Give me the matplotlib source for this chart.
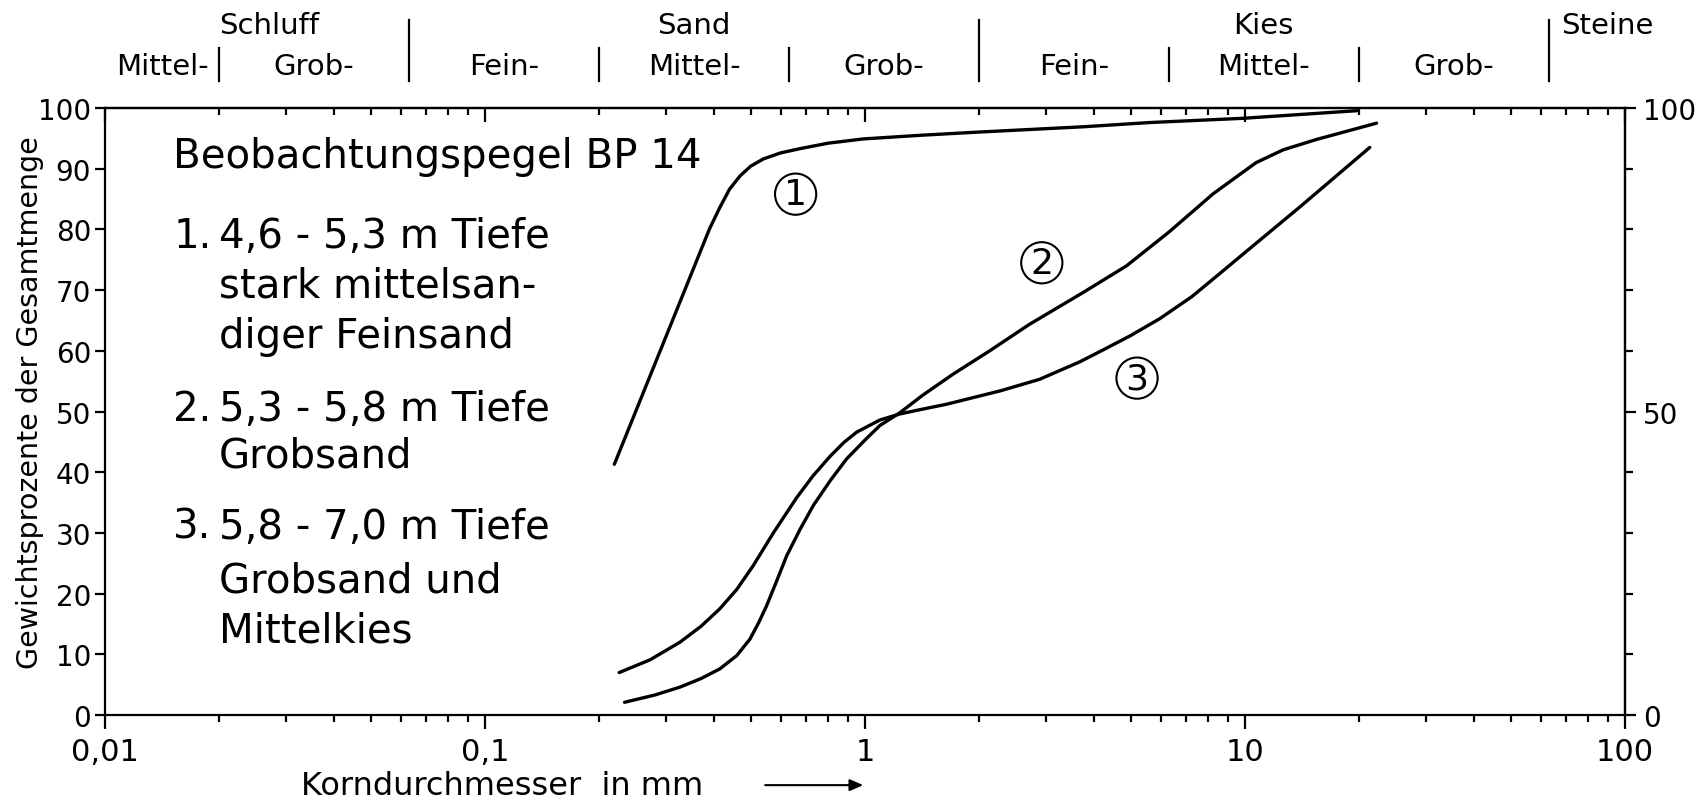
import matplotlib
matplotlib.use('Agg')
import matplotlib.pyplot as plt
from matplotlib.ticker import FixedLocator, NullFormatter, LogLocator

plt.rcParams['font.family'] = 'DejaVu Sans'

# ------------------------------------------------------------
#  Sieblinien BP 14 (Korndurchmesser in mm, Siebdurchgang in %)
# ------------------------------------------------------------
d1 = [0.219, 0.368, 0.39, 0.415, 0.44, 0.469, 0.50, 0.54, 0.60, 0.675, 0.80,
      0.99, 1.4, 1.95, 3.75, 5.62, 9.9, 19.7]
p1 = [41.3, 76.2, 80.1, 83.6, 86.6, 88.8, 90.4, 91.6, 92.6, 93.3, 94.2,
      94.9, 95.5, 96.0, 96.9, 97.6, 98.3, 99.55]

d2 = [0.233, 0.28, 0.326, 0.37, 0.415, 0.46, 0.498, 0.525, 0.551, 0.585, 0.622,
      0.675, 0.731, 0.81, 0.895, 1.0, 1.095, 1.236, 1.42, 1.71, 2.13, 2.7,
      3.75, 4.88, 6.32, 8.26, 10.7, 12.6, 15.4, 22.2]
p2 = [2.1, 3.3, 4.6, 6.0, 7.6, 9.8, 12.5, 15.2, 18.0, 22.0, 26.2,
      30.6, 34.5, 38.6, 42.2, 45.3, 47.7, 49.8, 52.7, 56.2, 60.0, 64.3,
      69.6, 74.0, 79.6, 85.9, 91.0, 93.1, 94.8, 97.5]

d3 = [0.2256, 0.272, 0.326, 0.37, 0.415, 0.46, 0.508, 0.574, 0.661, 0.73,
      0.809, 0.88, 0.951, 1.095, 1.236, 1.42, 1.64, 2.27, 2.88, 3.68, 4.28,
      5.0, 5.97, 7.24, 8.5, 10.05, 13.95, 21.3]
p3 = [7.0, 9.1, 12.0, 14.6, 17.5, 20.7, 24.6, 30.0, 35.8, 39.4,
      42.6, 44.9, 46.6, 48.6, 49.6, 50.4, 51.2, 53.4, 55.3, 58.2, 60.3,
      62.5, 65.3, 68.9, 72.5, 76.3, 83.7, 93.5]

# Kurvennummern (Position der Kreise)
nr_text = ['1', '2', '3']
nr_d = [0.657, 2.92, 5.2]
nr_p = [85.8, 74.5, 55.5]

# Bodenklassen nach DIN 4022
grenzen_haupt = [0.063, 2.0, 63.0]
grenzen_neben = [0.02, 0.2, 0.63, 6.3, 20.0]
haupt_namen = ['Schluff', 'Sand', 'Kies']
haupt_pos = [0.027, 0.355, 11.2]
neben_namen = ['Grob-', 'Fein-', 'Mittel-', 'Grob-', 'Fein-', 'Mittel-', 'Grob-']
neben_pos = [0.0355, 0.112, 0.355, 1.12, 3.55, 11.2, 35.5]

x_ticks = [0.01, 0.1, 1, 10, 100]
x_labels = ['0,01', '0,1', '1', '10', '100']

# Legendentext (Zeile, Nummer, Text)
legende = [
    (92.1, '', 'Beobachtungspegel BP 14'),
    (78.9, '1.', '4,6 - 5,3 m Tiefe'),
    (70.7, '', 'stark mittelsan-'),
    (62.4, '', 'diger Feinsand'),
    (50.4, '2.', '5,3 - 5,8 m Tiefe'),
    (42.7, '', 'Grobsand'),
    (31.0, '3.', '5,8 - 7,0 m Tiefe'),
    (22.2, '', 'Grobsand und'),
    (14.0, '', 'Mittelkies'),
]

LW = 1.6

fig = plt.figure(figsize=(16.98, 8.03), dpi=100)
ax = fig.add_axes([0.0618, 0.1083, 0.8952, 0.7560])

for d, p in [(d1, p1), (d2, p2), (d3, p3)]:
    ax.plot(d, p, color='black', linewidth=2.4, solid_capstyle='round',
            solid_joinstyle='round')

ax.set_xscale('log')
ax.set_xlim(0.01, 100)
ax.set_ylim(0, 100)
for s in ax.spines.values():
    s.set_linewidth(LW)

ax.set_xticks(x_ticks)
ax.set_xticklabels(x_labels)
ax.xaxis.set_minor_locator(LogLocator(base=10, subs=range(2, 10)))
ax.xaxis.set_minor_formatter(NullFormatter())
ax.tick_params(axis='x', which='major', direction='out', length=10, width=LW,
               labelsize=22, pad=6)
ax.tick_params(axis='x', which='minor', direction='out', length=5, width=LW)

ax.set_yticks(range(0, 101, 10))
ax.tick_params(axis='y', direction='out', length=7, width=LW, labelsize=20, pad=3)

# obere Achse: Striche nach innen
top = ax.secondary_xaxis('top')
top.set_xticks(x_ticks)
top.xaxis.set_minor_locator(LogLocator(base=10, subs=range(2, 10)))
top.xaxis.set_minor_formatter(NullFormatter())
top.tick_params(axis='x', which='major', direction='in', length=10, width=LW,
                labeltop=False)
top.tick_params(axis='x', which='minor', direction='in', length=5, width=LW)
top.spines['top'].set_linewidth(LW)

# rechte Achse: 0 / 50 / 100
right = ax.secondary_yaxis('right')
right.set_yticks([0, 50, 100])
right.yaxis.set_minor_locator(FixedLocator(range(10, 100, 10)))
right.tick_params(axis='y', which='major', direction='out', length=8, width=LW,
                  labelsize=20, pad=5)
right.tick_params(axis='y', which='minor', direction='out', length=6, width=LW)
right.spines['right'].set_linewidth(LW)

# Bodenklassen oben
tr = ax.get_xaxis_transform()
for g in grenzen_haupt:
    ax.plot([g, g], [1.045, 1.145], transform=tr, clip_on=False,
            color='black', linewidth=LW)
for g in grenzen_neben:
    ax.plot([g, g], [1.045, 1.098], transform=tr, clip_on=False,
            color='black', linewidth=LW)
for name, pos in zip(haupt_namen, haupt_pos):
    ax.text(pos, 1.137, name, transform=tr, ha='center', va='center', fontsize=21)
ax.text(68, 1.137, 'Steine', transform=tr, ha='left', va='center', fontsize=21)
ax.text(0.0188, 1.069, 'Mittel-', transform=tr, ha='right', va='center', fontsize=21)
for name, pos in zip(neben_namen, neben_pos):
    ax.text(pos, 1.069, name, transform=tr, ha='center', va='center', fontsize=21)

# Legende im Diagramm
ty = ax.get_yaxis_transform()
for y, nr, txt in legende:
    if txt.startswith('Beob'):
        ax.text(0.045, y, txt, transform=ty, ha='left', va='center', fontsize=29)
    else:
        if nr:
            ax.text(0.045, y, nr, transform=ty, ha='left', va='center', fontsize=29)
        ax.text(0.075, y, txt, transform=ty, ha='left', va='center', fontsize=29)

# Kurvennummern im Kreis
for t, d, p in zip(nr_text, nr_d, nr_p):
    ax.text(d, p, t, ha='center', va='center', fontsize=26,
            bbox=dict(boxstyle='circle,pad=0.1', fc='none', ec='black', lw=1.5))

# Achsbeschriftungen
fig.text(0.0177, 0.498, 'Gewichtsprozente der Gesamtmenge', rotation=90,
         ha='center', va='center', fontsize=20.5)
fig.text(0.296, 0.021, 'Korndurchmesser  in mm', ha='center', va='center',
         fontsize=23)
fig.patches.append(matplotlib.patches.FancyArrowPatch(
    (0.449, 0.021), (0.51, 0.021), transform=fig.transFigure,
    arrowstyle='-|>,head_length=8,head_width=3.5', color='black', linewidth=1.5))

fig.savefig('out.png', dpi=100)
